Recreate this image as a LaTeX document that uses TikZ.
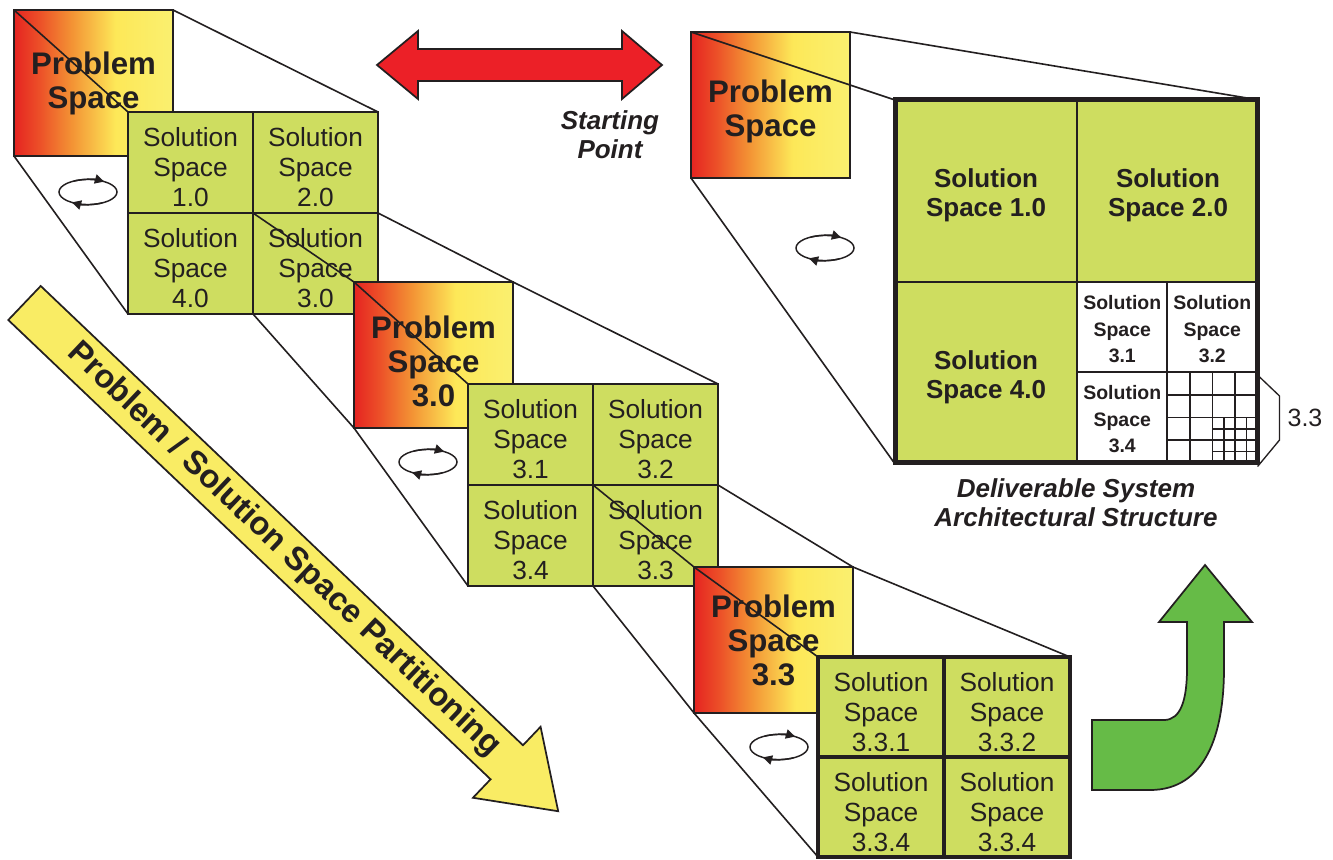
\documentclass[tikz,border=0pt]{standalone}
\usepackage{fontspec}
\setmainfont{Liberation Sans}
\usetikzlibrary{arrows.meta}
\pgfdeclarelayer{background}
\pgfsetlayers{background,main}
\definecolor{ink}{RGB}{35,31,32}
\definecolor{cellgreen}{RGB}{206,221,96}
\definecolor{psred}{RGB}{229,36,33}
\definecolor{psredorange}{RGB}{236,80,40}
\definecolor{psorange}{RGB}{243,146,52}
\definecolor{psyellow}{RGB}{253,232,88}
\definecolor{pslight}{RGB}{250,240,112}
\definecolor{arrowred}{RGB}{236,32,39}
\definecolor{arrowyellow}{RGB}{249,236,100}
\definecolor{arrowgreen}{RGB}{102,187,71}
% red-to-yellow fill of the problem squares (path spans 25bp..75bp)
\pgfdeclarehorizontalshading{psgrad}{100bp}{color(0bp)=(psred); color(25bp)=(psred); color(33bp)=(psredorange); color(43bp)=(psorange); color(57bp)=(psyellow); color(75bp)=(pslight); color(100bp)=(pslight)}
\begin{document}
\begin{tikzpicture}[x=0.75pt,y=-0.75pt,
  probbox/.style={draw=ink, line width=1.5pt, shade, shading=psgrad, inner sep=0pt, outer sep=0pt,
    anchor=north west, minimum width=119.25pt, minimum height=109.5pt},
  probtext/.style={align=center, text=ink, inner sep=0pt,
    font=\fontsize{23.4pt}{25.5pt}\selectfont\bfseries},
  cellbox/.style={draw=ink, line width=2pt, fill=cellgreen, inner sep=0pt, outer sep=0pt,
    anchor=north west, minimum width=93.75pt, minimum height=75.75pt},
  celltext/.style={align=center, text=ink, inner sep=0pt, yshift=-3.75pt,
    font=\fontsize{19.7pt}{22.5pt}\selectfont},
  deepcell/.style={cellbox, line width=3pt, minimum width=94.5pt, minimum height=75pt},
  bigcell/.style={draw=ink, line width=2pt, fill=cellgreen, inner sep=0pt, outer sep=0pt,
    anchor=north west, minimum width=136.5pt, minimum height=136.5pt},
  bigtext/.style={align=center, text=ink, inner sep=0pt, yshift=-3pt,
    font=\fontsize{19.5pt}{22pt}\selectfont\bfseries},
  subcell/.style={draw=ink, line width=1.8pt, fill=white, inner sep=0pt, outer sep=0pt,
    anchor=north west, minimum width=67.9pt, minimum height=67.9pt},
  subtext/.style={align=center, text=ink, inner sep=0pt, yshift=-1.5pt,
    font=\fontsize{14.6pt}{19.9pt}\selectfont\bfseries},
  persp/.style={draw=ink, line width=1.2pt},
  caption/.style={text=ink, align=center, font=\fontsize{19.5pt}{22pt}\selectfont\bfseries\itshape},
  spinmark/.pic={
    \draw[ink, line width=1.1pt] (0,0) ellipse [x radius=21.75pt, y radius=9.4pt];
    \draw[ink, line width=1.1pt, -{Triangle[length=7pt, width=7pt]}]
      (120:21.75pt and 9.4pt) arc[start angle=120, end angle=56, x radius=21.75pt, y radius=9.4pt];
    \draw[ink, line width=1.1pt, -{Triangle[length=7pt, width=7pt]}]
      (300:21.75pt and 9.4pt) arc[start angle=300, end angle=236, x radius=21.75pt, y radius=9.4pt];
  }
]
\useasboundingbox (0,0) rectangle (1333,859);
\fill[white] (0,0) rectangle (1333,859);

% partitioning arrow
\begin{scope}[shift={(24.5,303)}, rotate=-43.6]
  \draw[ink, line width=1.3pt, fill=arrowyellow, line join=miter]
    (0,-23.5) -- (666,-23.5) -- (666,-49) -- (737,0) -- (666,49) -- (666,23.5) -- (0,23.5) -- cycle;
  \node[transform shape, text=ink, inner sep=0pt, font=\fontsize{24.5pt}{26pt}\selectfont\bfseries] (flowlabel)
    at (358,0) {Problem / Solution Space Partitioning};
\end{scope}

% starting point arrow
\draw[ink, line width=1.3pt, fill=arrowred, line join=miter]
  (377,65) -- (418,31) -- (418,49) -- (622,49) -- (622,31) -- (662,65)
  -- (622,99) -- (622,81) -- (418,81) -- (418,99) -- cycle;
\node[caption] (start) at (610,135) {Starting\\Point};

% level 1
\node[probbox] (ps1) at (14,10) {};
\node[probtext] (ps1t) at (ps1.center) {Problem\\Space};
\node[cellbox] (g1a) at (128,112) {};
\node[celltext] (g1at) at (g1a.center) {Solution\\Space\\1.0};
\node[cellbox] (g1b) at (253,112) {};
\node[celltext] (g1bt) at (g1b.center) {Solution\\Space\\2.0};
\node[cellbox] (g1d) at (128,213) {};
\node[celltext] (g1dt) at (g1d.center) {Solution\\Space\\4.0};
\node[cellbox] (g1c) at (253,213) {};
\node[celltext] (g1ct) at (g1c.center) {Solution\\Space\\3.0};

% level 2
\node[probbox] (ps2) at (354,282) {};
\node[probtext, yshift=-5pt] (ps2t) at (ps2.center) {Problem\\Space\\3.0};
\node[cellbox] (g2a) at (468,384) {};
\node[celltext] (g2at) at (g2a.center) {Solution\\Space\\3.1};
\node[cellbox] (g2b) at (593,384) {};
\node[celltext] (g2bt) at (g2b.center) {Solution\\Space\\3.2};
\node[cellbox] (g2d) at (468,485) {};
\node[celltext] (g2dt) at (g2d.center) {Solution\\Space\\3.4};
\node[cellbox] (g2c) at (593,485) {};
\node[celltext] (g2ct) at (g2c.center) {Solution\\Space\\3.3};

% level 3
\node[probbox] (ps3) at (694,567) {};
\node[probtext] (ps3t) at (ps3.center) {Problem\\Space\\3.3};
\node[deepcell] (g3a) at (818,657) {};
\node[celltext] (g3at) at (g3a.center) {Solution\\Space\\3.3.1};
\node[deepcell] (g3b) at (944,657) {};
\node[celltext] (g3bt) at (g3b.center) {Solution\\Space\\3.3.2};
\node[deepcell] (g3d) at (818,757) {};
\node[celltext] (g3dt) at (g3d.center) {Solution\\Space\\3.3.4};
\node[deepcell] (g3c) at (944,757) {};
\node[celltext] (g3ct) at (g3c.center) {Solution\\Space\\3.3.4};

% projection lines
\draw[persp] (ps1.north west) -- (g1a.north west);
\draw[persp] (ps1.north east) -- (g1b.north east);
\draw[persp] (ps1.south west) -- (g1d.south west);
\draw[persp] (g1c.north west) -- (ps2.north west);
\draw[persp] (g1c.north east) -- (ps2.north east);
\draw[persp] (g1c.south west) -- (ps2.south west);
\draw[persp] (ps2.north west) -- (g2a.north west);
\draw[persp] (ps2.north east) -- (g2b.north east);
\draw[persp] (ps2.south west) -- (g2d.south west);
\draw[persp] (g2c.north west) -- (ps3.north west);
\draw[persp] (g2c.north east) -- (ps3.north east);
\draw[persp] (g2c.south west) -- (ps3.south west);
\draw[persp] (ps3.north west) -- (g3a.north west);
\draw[persp] (ps3.north east) -- (g3b.north east);
\draw[persp] (ps3.south west) -- (g3d.south west);

\pic at (88,192) {spinmark};
\pic at (428,462) {spinmark};
\pic at (779,747) {spinmark};

% deliverable structure
\node[probbox] (psR) at (691,32) {};
\node[probtext, yshift=-4.5pt] (psRt) at (psR.center) {Problem\\Space};
\node[bigcell] (q1) at (895,100) {};
\node[bigtext] (q1t) at (q1.center) {Solution\\Space 1.0};
\node[bigcell] (q2) at (1077,100) {};
\node[bigtext] (q2t) at (q2.center) {Solution\\Space 2.0};
\node[bigcell] (q4) at (895,282) {};
\node[bigtext] (q4t) at (q4.center) {Solution\\Space 4.0};
\node[subcell] (s31) at (1077,282) {};
\node[subtext] (s31t) at (s31.center) {Solution\\Space\\3.1};
\node[subcell] (s32) at (1167,282) {};
\node[subtext] (s32t) at (s32.center) {Solution\\Space\\3.2};
\node[subcell] (s34) at (1077,372) {};
\node[subtext] (s34t) at (s34.center) {Solution\\Space\\3.4};
\node[subcell] (s33) at (1167,372) {};
\foreach \k in {1,2,3} {
  \draw[ink, line width=1.3pt] ({1167+22.75*\k},372) -- ({1167+22.75*\k},463);
  \draw[ink, line width=1.3pt] (1167,{372+22.75*\k}) -- (1258,{372+22.75*\k});
  \draw[ink, line width=1pt] ({1212.5+11.375*\k},417.5) -- ({1212.5+11.375*\k},463);
  \draw[ink, line width=1pt] (1212.5,{417.5+11.375*\k}) -- (1258,{417.5+11.375*\k});
}
\draw[ink, line width=3.75pt] (q1.north west) rectangle (s33.south east);
\draw[persp] (psR.north west) -- (q1.north west);
\draw[persp] (psR.north east) -- (q2.north east);
\draw[persp] (psR.south west) -- (q4.south west);
\begin{pgfonlayer}{background}
  \draw[persp] (psR.south east) -- (s33.south east);
\end{pgfonlayer}
\pic at (825,248) {spinmark};

\node[text=ink, font=\fontsize{18.75pt}{20pt}\selectfont] (lbl33) at (1305,418) {3.3};
\draw[ink, line width=1pt] (s33.north east) ++(1,4) -- ++(21,20) -- ++(0,44) -- ([yshift=-3pt]s33.south east);

\node[caption] (deliv) at (1076,503) {Deliverable System\\Architectural Structure};

% return arrow
\draw[ink, line width=1.3pt, fill=arrowgreen, line join=miter]
  (1092,720) -- (1165,720) .. controls (1180,719) and (1187,702) .. (1187,668)
  -- (1187,622) -- (1159,622) -- (1205,565) -- (1252,622) -- (1224,622) -- (1224,668)
  .. controls (1224,735) and (1205,790) .. (1150,790) -- (1092,790) -- cycle;
\end{tikzpicture}
\end{document}
